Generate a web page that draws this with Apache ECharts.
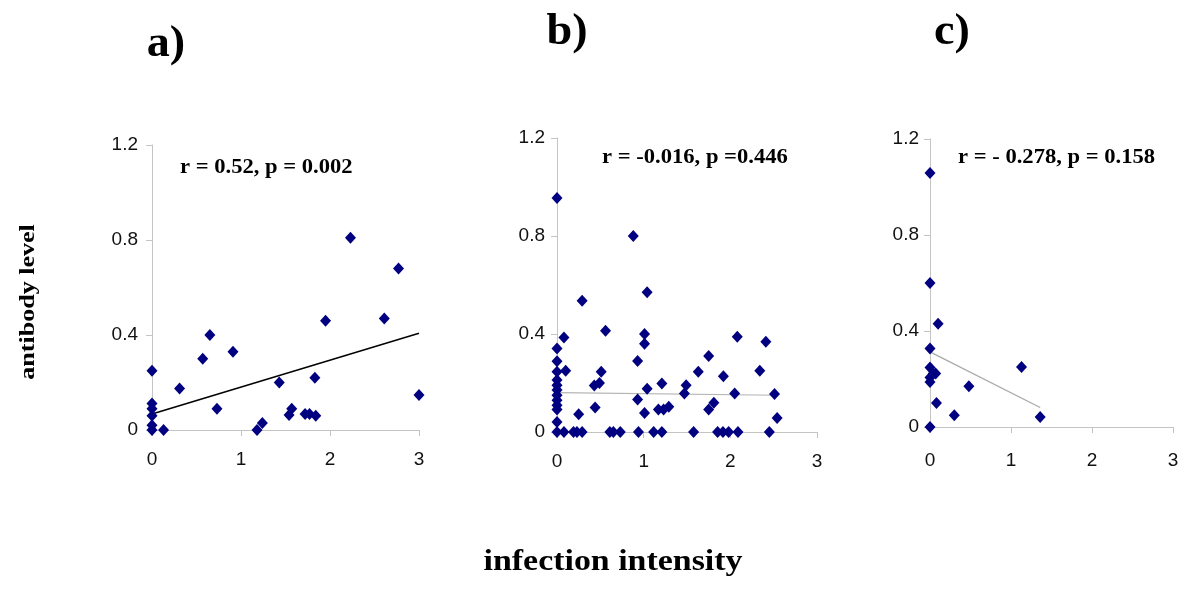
<!DOCTYPE html>
<html><head><meta charset="utf-8">
<script src="https://cdn.jsdelivr.net/npm/echarts@6/dist/echarts.min.js"></script>
<style>html,body{margin:0;padding:0;background:#fff}#c{width:1200px;height:598px}</style>
</head><body><div id="c"></div>
<script>
// ---- data ----
const panelLabels = ['a)', 'b)', 'c)'];
const statTexts = ['r = 0.52, p = 0.002', 'r = -0.016, p =0.446', 'r = - 0.278, p = 0.158'];
const xTicks = [0, 1, 2, 3];
const yTicks = [0, 0.4, 0.8, 1.2];
const xAxisTitle = 'infection intensity';
const yAxisTitle = 'antibody level';

const aX = [0, 0, 0, 0, 0, 0, 0.13, 0.31, 0.57, 0.65, 0.73, 0.91, 1.18, 1.24, 1.43, 1.54, 1.57, 1.72, 1.77, 1.84, 1.83, 1.95, 2.23, 2.61, 2.77, 3.0];
const aY = [0.25, 0.112, 0.09, 0.06, 0.02, 0, 0, 0.175, 0.30, 0.40, 0.09, 0.33, 0, 0.03, 0.20, 0.063, 0.09, 0.067, 0.067, 0.06, 0.22, 0.46, 0.81, 0.47, 0.68, 0.147];
const aTrendX = [0, 3];
const aTrendY = [0.067, 0.407];

const bX = [0, 0, 0, 0, 0, 0, 0, 0, 0, 0, 0, 0, 0, 0.08, 0.10, 0.08, 0.19, 0.23, 0.29, 0.25, 0.29, 0.44, 0.43, 0.49, 0.51, 0.56, 0.61, 0.65, 0.73, 0.93, 0.93, 0.94, 0.88, 1.04, 1.01, 1.01, 1.04, 1.01, 1.115, 1.21, 1.21, 1.17, 1.23, 1.29, 1.49, 1.47, 1.576, 1.63, 1.75, 1.75, 1.81, 1.853, 1.915, 1.92, 1.98, 2.05, 2.08, 2.088, 2.34, 2.41, 2.45, 2.51, 2.54];
const bY = [0.955, 0.341, 0.289, 0.246, 0.212, 0.191, 0.171, 0.150, 0.130, 0.109, 0.092, 0.041, 0, 0.386, 0.25, 0, 0, 0, 0, 0.072, 0.536, 0.10, 0.19, 0.20, 0.246, 0.413, 0, 0, 0, 0.29, 0.133, 0, 0.80, 0.57, 0.40, 0.36, 0.177, 0.078, 0, 0, 0.198, 0.092, 0.092, 0.103, 0.191, 0.157, 0, 0.246, 0.31, 0.092, 0.119, 0, 0, 0.228, 0, 0.157, 0.389, 0, 0.25, 0.368, 0, 0.155, 0.057];
const bTrendX = [0, 2.54];
const bTrendY = [0.161, 0.150];

const cX = [0, 0, 0.10, 0, 0, 0, 0, 0.04, 0.07, 0, 0.08, 0.30, 0.48, 1.13, 1.36];
const cY = [1.058, 0.60, 0.43, 0.327, 0.248, 0.206, 0.188, 0.223, 0.223, 0, 0.10, 0.049, 0.17, 0.25, 0.042];
const cTrendX = [0, 1.36];
const cTrendY = [0.313, 0.081];

// ---- build ----
const zip = (xs, ys) => xs.map((x, i) => [x, ys[i]]);
const grids = [
  { left: 152, top: 145, width: 267, height: 285 },
  { left: 557, top: 138, width: 260, height: 294 },
  { left: 930, top: 139, width: 243, height: 288 }
];
const yMargins = [14, 12, 11];
const xMargins = [20, 20, 24];
const axisLine = { show: true, lineStyle: { color: '#c4c4c4', width: 1 } };
const tickFont = { fontFamily: 'Liberation Sans', fontSize: 19, color: '#111' };

const xAxes = grids.map((g, i) => ({
  type: 'value', gridIndex: i, min: xTicks[0], max: xTicks[xTicks.length - 1], interval: 1,
  axisLine, axisTick: { show: true, length: 6, lineStyle: { color: '#c4c4c4' } },
  splitLine: { show: false },
  axisLabel: Object.assign({ margin: xMargins[i] }, tickFont)
}));
const yAxes = grids.map((g, i) => ({
  type: 'value', gridIndex: i, min: yTicks[0], max: yTicks[yTicks.length - 1], interval: 0.4,
  axisLine, axisTick: { show: true, length: 6, lineStyle: { color: '#c4c4c4' } },
  splitLine: { show: false },
  axisLabel: Object.assign({ margin: yMargins[i] }, tickFont)
}));

const pts = [zip(aX, aY), zip(bX, bY), zip(cX, cY)];
const trends = [zip(aTrendX, aTrendY), zip(bTrendX, bTrendY), zip(cTrendX, cTrendY)];
const trendStyles = [
  { color: '#000', width: 1.5 },
  { color: '#b4b4b4', width: 1.2 },
  { color: '#a8a8a8', width: 1.2 }
];
const series = [];
for (let i = 0; i < 3; i++) {
  series.push({
    type: 'line', xAxisIndex: i, yAxisIndex: i, data: trends[i], symbol: 'none',
    lineStyle: trendStyles[i], silent: true, z: 2, animation: false
  });
  series.push({
    type: 'scatter', xAxisIndex: i, yAxisIndex: i, data: pts[i], symbol: 'diamond',
    symbolSize: [11, 12], itemStyle: { color: '#000080', opacity: 1 }, clip: false, z: 3, animation: false
  });
}

const serif = 'Liberation Serif, Times New Roman, serif';
const labelPos = [[166, 45], [567, 33], [952, 33]];
const statPos = [[180, 168], [602, 158], [958, 158]];
const graphic = [];
panelLabels.forEach((t, i) => graphic.push({
  type: 'text', x: labelPos[i][0], y: labelPos[i][1], scaleX: 1.05,
  style: { text: t, font: 'bold 44px ' + serif, fill: '#000', align: 'center', verticalAlign: 'middle', textAlign: 'center', textVerticalAlign: 'middle' }
}));
statTexts.forEach((t, i) => graphic.push({
  type: 'text', x: statPos[i][0], y: statPos[i][1], scaleX: 1.13,
  style: { text: t, font: 'bold 20px ' + serif, fill: '#000', align: 'left', verticalAlign: 'middle', textAlign: 'left', textVerticalAlign: 'middle' }
}));
graphic.push({
  type: 'text', x: 613, y: 562, scaleX: 1.13,
  style: { text: xAxisTitle, font: 'bold 30px ' + serif, fill: '#000', align: 'center', verticalAlign: 'middle', textAlign: 'center', textVerticalAlign: 'middle' }
});
graphic.push({
  type: 'text', x: 29, y: 302, rotation: Math.PI / 2, scaleX: 1.24,
  style: { text: yAxisTitle, font: 'bold 21px ' + serif, fill: '#000', align: 'center', verticalAlign: 'middle', textAlign: 'center', textVerticalAlign: 'middle' }
});

const chart = echarts.init(document.getElementById('c'), null, { renderer: 'canvas' });
chart.setOption({
  backgroundColor: '#fff',
  animation: false,
  grid: grids,
  xAxis: xAxes,
  yAxis: yAxes,
  series,
  graphic
});
</script></body></html>
